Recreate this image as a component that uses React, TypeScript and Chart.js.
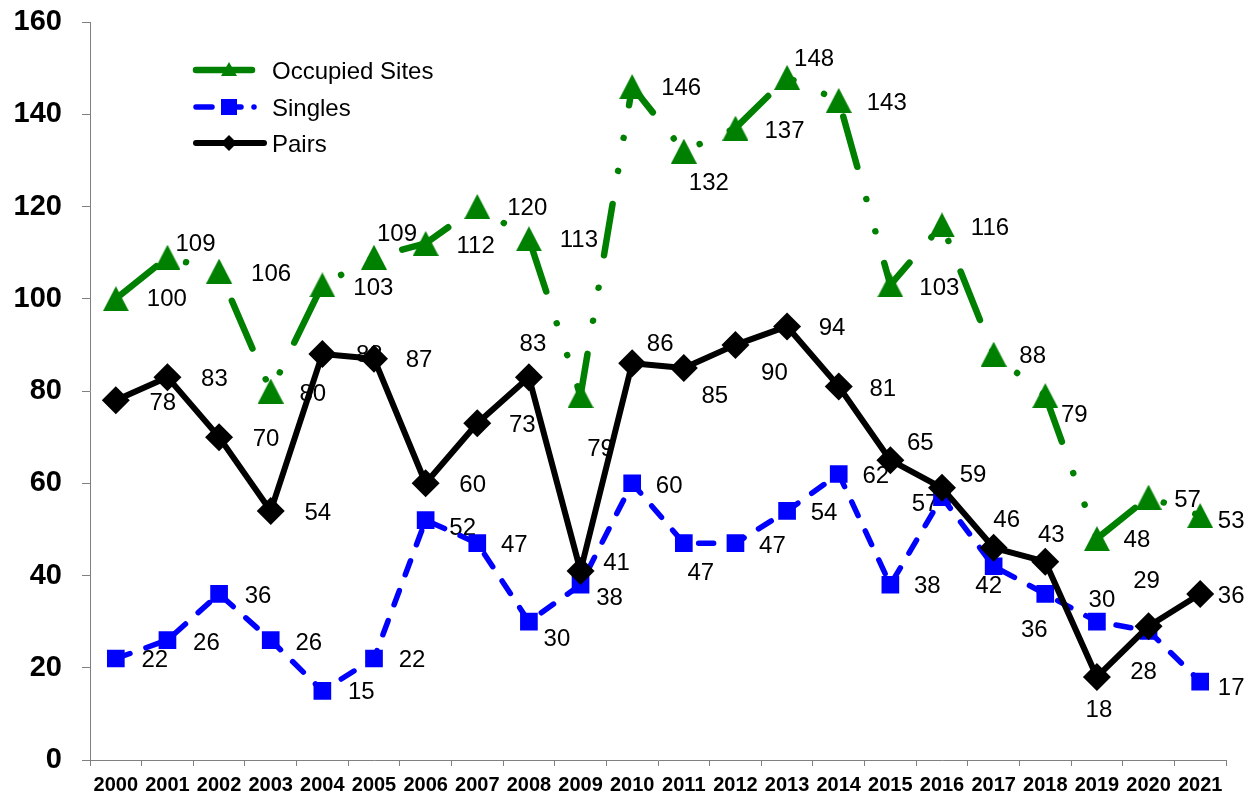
import React, { useEffect, useRef } from 'react';
import { Chart, registerables } from 'chart.js';

Chart.register(...registerables);

const years = ['2000', '2001', '2002', '2003', '2004', '2005', '2006', '2007', '2008', '2009', '2010',
  '2011', '2012', '2013', '2014', '2015', '2016', '2017', '2018', '2019', '2020', '2021'];

const occupiedSites = [100, 109, 106, 80, 103, 109, 112, 120, 113, 79, 146, 132, 137, 148, 143, 103, 116, 88, 79, 48, 57, 53];
const singles = [22, 26, 36, 26, 15, 22, 52, 47, 30, 38, 60, 47, 47, 54, 62, 38, 57, 42, 36, 30, 28, 17];
const pairs = [78, 83, 70, 54, 88, 87, 60, 73, 83, 41, 86, 85, 90, 94, 81, 65, 59, 46, 43, 18, 29, 36];

const yMin = 0;
const yMax = 160;
const yStep = 20;

const seriesNames = ['Occupied Sites', 'Singles', 'Pairs'];

// data-label placement (dx, dy from the marker), per series
const occupiedLabelOffsets = [
  [51, -1], [28, -15], [52, 1], [42, 1], [51, 1], [23, -25], [50, 1], [50, 0], [50, 0], [20, 52], [49, 0],
  [25, 30], [49, 1], [27, -20], [48, 1], [49, 1], [48, 1], [39, 0], [29, 18], [40, 0], [39, 1], [31, 4],
];
const singlesLabelOffsets = [
  [39, 0], [39, 1], [39, 0], [38, 1], [39, 0], [38, 0], [37, 6], [37, 0], [28, 16], [29, 12], [37, 1],
  [17, 28], [37, 1], [37, 0], [37, 0], [37, 0], [-17, 5], [-5, 18], [-11, 34], [5, -23], [-5, 40], [31, 5],
];
const pairsLabelOffsets = [
  [47, 1], [47, 0], [47, 0], [47, 0], [47, -1], [45, 0], [47, 0], [45, 0], [4, -35], [36, -9], [28, -21],
  [31, 26], [39, 27], [45, 0], [44, 1], [30, -19], [31, -14], [13, -29], [6, -28], [2, 31], [-2, -47], [31, 0],
];

const GREEN = '#008000';
const BLUE = '#0000FF';
const BLACK = '#000000';
const AXIS = '#808080';
const FONT = '"Liberation Sans", Arial, sans-serif';

const greenDash = [52, 33.5, 0.01, 33.5, 0.01, 33];
const blueDash = [15, 17];

function makeTriangle(w: number, h: number, color: string) {
  const c = document.createElement('canvas');
  c.width = w;
  c.height = h;
  const g = c.getContext('2d')!;
  g.fillStyle = color;
  g.beginPath();
  g.moveTo(w / 2, 0);
  g.lineTo(w, h);
  g.lineTo(0, h);
  g.closePath();
  g.fill();
  return c;
}

export default function App() {
  const canvasRef = useRef<HTMLCanvasElement | null>(null);

  useEffect(() => {
    document.body.style.margin = '0';
    const canvas = canvasRef.current;
    if (!canvas) return;

    const triBig = makeTriangle(26, 25, GREEN);
    const triSmall = makeTriangle(16, 14, GREEN);

    const labelOffsets = [occupiedLabelOffsets, singlesLabelOffsets, pairsLabelOffsets];

    const dataLabels = {
      id: 'dataLabels',
      beforeDatasetsDraw(chart: any) {
        const ctx = chart.ctx;
        ctx.save();
        const size = 24;
        ctx.font = `${size}px ${FONT}`;
        ctx.fillStyle = '#000';
        ctx.textAlign = 'center';
        ctx.textBaseline = 'alphabetic';
        chart.data.datasets.forEach((ds: any, i: number) => {
          const meta = chart.getDatasetMeta(i);
          meta.data.forEach((pt: any, j: number) => {
            const off = labelOffsets[i][j];
            ctx.fillText(String(ds.data[j]), pt.x + off[0], pt.y + off[1] + size * 0.358);
          });
        });
        ctx.restore();
      },
    };

    const customLegend = {
      id: 'customLegend',
      afterDraw(chart: any) {
        const ctx = chart.ctx;
        ctx.save();
        const x0 = 196;
        const textX = 272;
        const rows = [
          { y: 70, color: GREEN, width: 6.5, dash: [] as number[], x1: 252 },
          { y: 107, color: BLUE, width: 5.5, dash: [16, 13, 16, 13, 0.01, 20], x1: 263 },
          { y: 143, color: BLACK, width: 6, dash: [] as number[], x1: 264 },
        ];
        rows.forEach((r, i) => {
          ctx.strokeStyle = r.color;
          ctx.lineWidth = r.width;
          ctx.lineCap = 'round';
          ctx.setLineDash(r.dash);
          ctx.beginPath();
          ctx.moveTo(x0, r.y);
          ctx.lineTo(r.x1, r.y);
          ctx.stroke();
          ctx.setLineDash([]);
          const mx = 229;
          if (i === 0) {
            ctx.drawImage(triSmall, mx - triSmall.width / 2, r.y - triSmall.height / 2 - 1);
          } else if (i === 1) {
            ctx.fillStyle = BLUE;
            ctx.fillRect(mx - 8, r.y - 8, 16, 16);
          } else {
            ctx.fillStyle = BLACK;
            ctx.beginPath();
            ctx.moveTo(mx, r.y - 8);
            ctx.lineTo(mx + 8, r.y);
            ctx.lineTo(mx, r.y + 8);
            ctx.lineTo(mx - 8, r.y);
            ctx.closePath();
            ctx.fill();
          }
          ctx.fillStyle = '#000';
          ctx.font = `24px ${FONT}`;
          ctx.textAlign = 'left';
          ctx.textBaseline = 'alphabetic';
          ctx.fillText(seriesNames[i], textX, r.y + 24 * 0.358);
        });
        ctx.restore();
      },
    };

    const chart = new Chart(canvas, {
      type: 'line',
      data: {
        labels: years,
        datasets: [
          {
            label: seriesNames[0],
            data: occupiedSites,
            borderColor: GREEN,
            borderWidth: 6.5,
            borderDash: greenDash,
            borderCapStyle: 'round',
            borderJoinStyle: 'round',
            pointStyle: triBig as any,
            pointRadius: 12,
            pointBorderWidth: 0,
            pointBackgroundColor: GREEN,
            tension: 0,
            fill: false,
            order: 3,
          },
          {
            label: seriesNames[1],
            data: singles,
            borderColor: BLUE,
            borderWidth: 5.5,
            borderDash: blueDash,
            borderCapStyle: 'round',
            borderJoinStyle: 'round',
            pointStyle: 'rect',
            pointRadius: 12.5,
            pointBorderWidth: 0,
            pointBackgroundColor: BLUE,
            tension: 0,
            fill: false,
            order: 2,
          },
          {
            label: seriesNames[2],
            data: pairs,
            borderColor: BLACK,
            borderWidth: 6,
            borderCapStyle: 'round',
            borderJoinStyle: 'round',
            pointStyle: 'rectRot',
            pointRadius: 14,
            pointBorderWidth: 0,
            pointBackgroundColor: BLACK,
            tension: 0,
            fill: false,
            order: 1,
          },
        ],
      },
      options: {
        responsive: false,
        animation: false,
        events: [],
        layout: { padding: { top: 22, right: 26, left: 0, bottom: 0 } },
        plugins: {
          legend: { display: false },
          tooltip: { enabled: false },
          title: { display: false },
        },
        scales: {
          x: {
            type: 'category',
            offset: true,
            grid: {
              offset: true,
              drawOnChartArea: false,
              drawTicks: true,
              tickLength: 6,
              color: AXIS,
              lineWidth: 1,
            },
            border: { display: true, color: AXIS, width: 1 },
            ticks: {
              autoSkip: false,
              maxRotation: 0,
              minRotation: 0,
              padding: 7,
              color: '#000',
              font: { family: FONT, size: 20, weight: 'bold' },
            },
            afterFit(scale: any) {
              scale.height = 37;
              scale.paddingLeft = 0;
              scale.paddingRight = 0;
            },
          },
          y: {
            min: yMin,
            max: yMax,
            grid: {
              drawOnChartArea: false,
              drawTicks: true,
              tickLength: 8,
              color: AXIS,
              lineWidth: 1,
            },
            border: { display: true, color: AXIS, width: 1 },
            ticks: {
              stepSize: yStep,
              padding: 20,
              color: '#000',
              font: { family: FONT, size: 29, weight: 'bold' },
            },
            afterFit(scale: any) {
              scale.width = 90;
              scale.paddingTop = 0;
              scale.paddingBottom = 0;
            },
          },
        },
      },
      plugins: [dataLabels, customLegend],
    });

    return () => {
      chart.destroy();
    };
  }, []);

  return (
    <div style={{ position: 'fixed', left: 0, top: 0, width: 1252, height: 797, background: '#fff' }}>
      <canvas ref={canvasRef} width={1252} height={797} style={{ width: 1252, height: 797, display: 'block' }} />
    </div>
  );
}
